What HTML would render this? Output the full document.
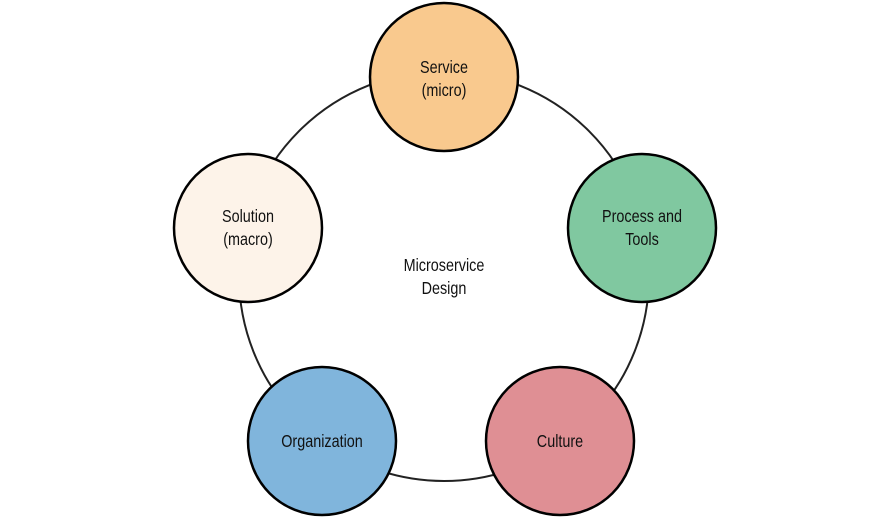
<!DOCTYPE html>
<html><head><meta charset="utf-8"><style>
html,body{margin:0;padding:0;background:#fff;}
svg{display:block;}
text{font-family:"Liberation Sans Narrow","Liberation Sans",sans-serif;font-size:18px;fill:#111;text-anchor:middle;}
</style></head><body>
<svg width="885" height="520" viewBox="0 0 885 520">
<circle cx="444" cy="276" r="205" fill="none" stroke="#222" stroke-width="2"/>
<circle cx="444" cy="77" r="74" fill="#f9c98e" stroke="#000" stroke-width="2.5"/>
<circle cx="642" cy="228" r="74" fill="#80c8a0" stroke="#000" stroke-width="2.5"/>
<circle cx="560" cy="441" r="74" fill="#df8f94" stroke="#000" stroke-width="2.5"/>
<circle cx="322" cy="441" r="74" fill="#80b5dc" stroke="#000" stroke-width="2.5"/>
<circle cx="248" cy="228" r="74" fill="#fdf3e9" stroke="#000" stroke-width="2.5"/>
<g transform="scale(0.8,1)">
<text x="555" y="73">Service</text>
<text x="555" y="96">(micro)</text>
<text x="802.5" y="222">Process and</text>
<text x="802.5" y="245">Tools</text>
<text x="700" y="447">Culture</text>
<text x="402.5" y="447">Organization</text>
<text x="310" y="222">Solution</text>
<text x="310" y="245">(macro)</text>
<text x="555" y="271">Microservice</text>
<text x="555" y="294">Design</text>
</g>
</svg>
</body></html>
